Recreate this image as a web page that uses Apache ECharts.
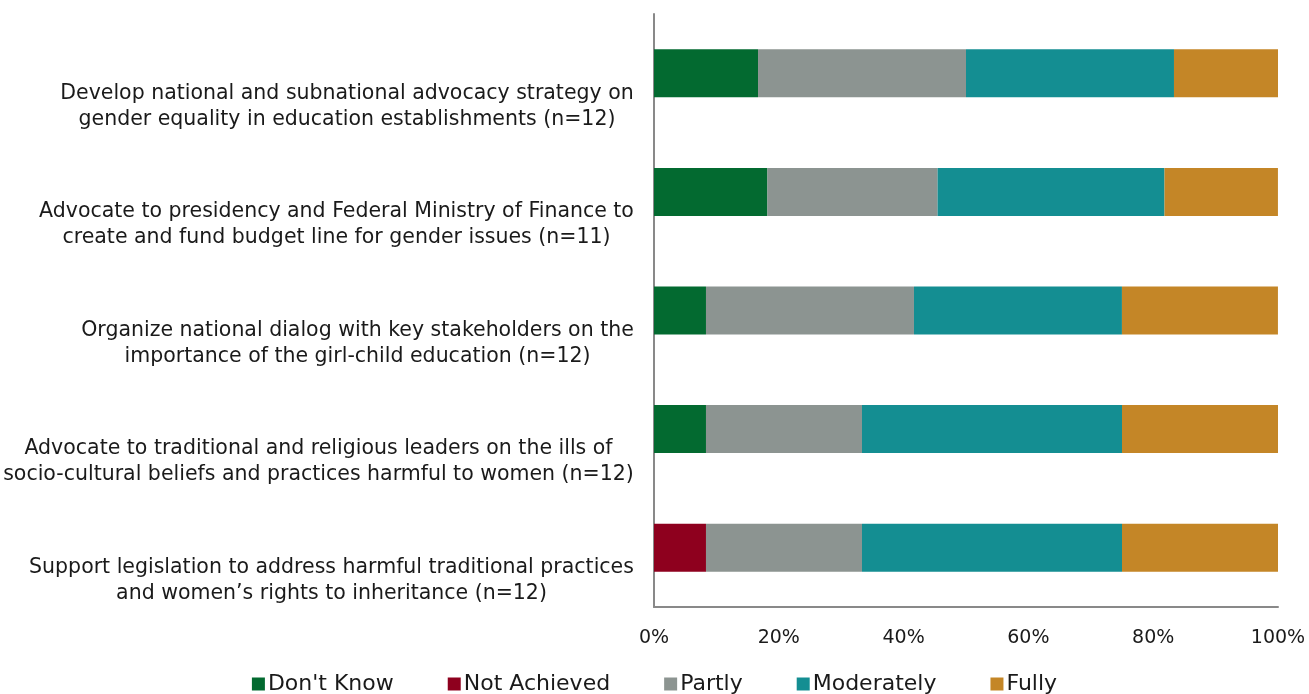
<!DOCTYPE html>
<html>
<head>
<meta charset="utf-8">
<script src="https://cdn.jsdelivr.net/npm/echarts@6/dist/echarts.min.js"></script>
<style>
html,body{margin:0;padding:0;background:#fff;}
#chart{width:1309px;height:694px;}
</style>
</head>
<body>
<div id="chart"></div>
<script>
const categories = [
  "Develop national and subnational advocacy strategy on\ngender equality in education establishments (n=12)",
  "Advocate to presidency and Federal Ministry of Finance to\ncreate and fund budget line for gender issues (n=11)",
  "Organize national dialog with key stakeholders on the\nimportance of the girl-child education (n=12)",
  "Advocate to traditional and religious leaders on the ills of\nsocio-cultural beliefs and practices harmful to women (n=12)",
  "Support legislation to address harmful traditional practices\nand women\u2019s rights to inheritance (n=12)"
];
const seriesNames = ["Don't Know", "Not Achieved", "Partly", "Moderately", "Fully"];
const dontKnow    = [16.67, 18.18, 8.33, 8.33, 0];
const notAchieved = [0, 0, 0, 0, 8.33];
const partly      = [33.33, 27.27, 33.33, 25.00, 25.00];
const moderately  = [33.33, 36.36, 33.33, 41.67, 41.67];
const fully       = [16.67, 18.18, 25.00, 25.00, 25.00];
const xTicks = [0, 20, 40, 60, 80, 100];

const colors = ['#036A30', '#8E001E', '#8C9491', '#148E92', '#C48627'];
const values = [dontKnow, notAchieved, partly, moderately, fully];

const FONT = '"DejaVu Sans", sans-serif';
const LABEL_SIZE = 20.5;
const ctx = document.createElement('canvas').getContext('2d');
ctx.font = LABEL_SIZE + 'px ' + FONT;
const rich = {};
categories.forEach((c, i) => {
  const w = Math.max(...c.split('\n').map(l => ctx.measureText(l).width));
  rich['r' + i] = { width: Math.ceil(w), align: 'center', fontSize: LABEL_SIZE, lineHeight: 26, fontFamily: FONT, color: '#1a1a1a' };
});

const chart = echarts.init(document.getElementById('chart'));
chart.setOption({
  animation: false,
  color: colors,
  grid: { left: 653, right: 31, top: 14, bottom: 87, containLabel: false },
  legend: {
    top: 668, left: 'center',
    icon: 'rect', itemWidth: 13, itemHeight: 13, itemGap: 54,
    textStyle: { fontSize: 22, fontFamily: FONT, color: '#1a1a1a', padding: [0, 0, 0, -2] },
    data: seriesNames
  },
  xAxis: {
    type: 'value', min: xTicks[0], max: xTicks[xTicks.length - 1], interval: 20,
    axisLine: { show: true, lineStyle: { color: '#898989', width: 2 } },
    axisTick: { show: false },
    splitLine: { show: false },
    axisLabel: { formatter: '{value}%', fontSize: 19, fontFamily: FONT, color: '#1a1a1a', margin: 22 }
  },
  yAxis: {
    type: 'category', inverse: true, data: categories,
    axisLine: { show: true, lineStyle: { color: '#898989', width: 2 } },
    axisTick: { show: false },
    axisLabel: {
      margin: 20, align: 'right', verticalAlign: 'top', padding: [7, 0, 0, 0],
      formatter: (v, idx) => v.split('\n').map(l => '{r' + idx + '|' + l + '}').join('\n'),
      rich: rich
    }
  },
  series: seriesNames.map((n, i) => ({
    name: n, type: 'bar', stack: 'total', barWidth: 48,
    data: values[i],
    itemStyle: { color: colors[i] }
  }))
});
</script>
</body>
</html>
